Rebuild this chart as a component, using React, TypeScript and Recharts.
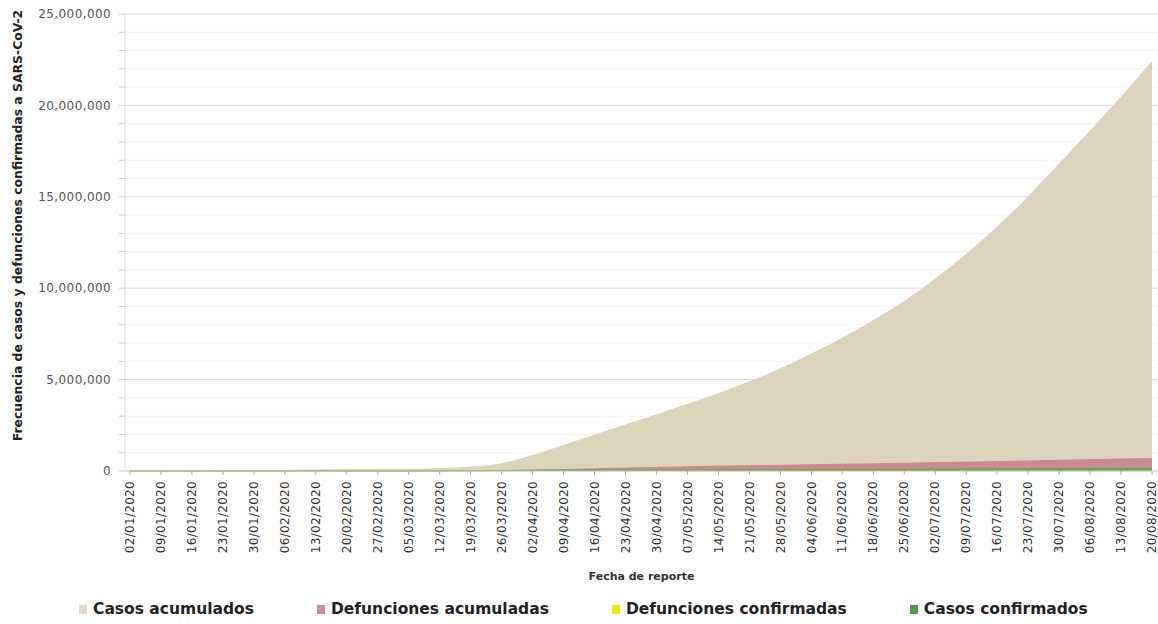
import {
  AreaChart,
  Area,
  XAxis,
  YAxis,
  CartesianGrid,
  ReferenceLine,
  Legend,
  Label,
} from "recharts";

// weekly report dates
const fechas = [
  "02/01/2020", "09/01/2020", "16/01/2020", "23/01/2020", "30/01/2020",
  "06/02/2020", "13/02/2020", "20/02/2020", "27/02/2020", "05/03/2020",
  "12/03/2020", "19/03/2020", "26/03/2020", "02/04/2020", "09/04/2020",
  "16/04/2020", "23/04/2020", "30/04/2020", "07/05/2020", "14/05/2020",
  "21/05/2020", "28/05/2020", "04/06/2020", "11/06/2020", "18/06/2020",
  "25/06/2020", "02/07/2020", "09/07/2020", "16/07/2020", "23/07/2020",
  "30/07/2020", "06/08/2020", "13/08/2020", "20/08/2020",
];

const casosAcumulados = [
  27, 41, 45, 581, 7818, 28276, 60000, 75748, 82294, 95333,
  125048, 209839, 400000, 850000, 1400000, 1960000, 2520000, 3070000, 3650000, 4230000,
  4880000, 5580000, 6400000, 7260000, 8230000, 9280000, 10500000, 11850000, 13350000, 15000000,
  16800000, 18600000, 20450000, 22400000,
];

const defuncionesAcumuladas = [
  0, 0, 2, 17, 170, 565, 1369, 2129, 2804, 3286,
  4615, 8778, 20000, 42000, 80000, 118000, 160000, 198000, 230000, 262000,
  290000, 315000, 340000, 368000, 396000, 425000, 455000, 485000, 515000, 548000,
  585000, 620000, 655000, 690000,
];

const defuncionesConfirmadas = [
  0, 0, 0, 2, 40, 70, 120, 100, 40, 80,
  300, 1000, 2500, 5000, 6500, 7000, 6500, 5500, 5300, 5000,
  4500, 4300, 4200, 4800, 4800, 5000, 4800, 4900, 5500, 5800,
  6000, 6100, 6000, 6000,
];

const casosConfirmados = [
  0, 0, 1, 300, 1700, 3700, 15000, 900, 1100, 2300,
  7500, 15000, 30000, 45000, 50000, 50000, 50000, 52000, 55000, 58000,
  62000, 66000, 70000, 75000, 80000, 88000, 95000, 100000, 110000, 118000,
  125000, 125000, 130000, 125000,
];

const yTicks = [
  0, 1000000, 2000000, 3000000, 4000000, 5000000, 6000000, 7000000, 8000000,
  9000000, 10000000, 11000000, 12000000, 13000000, 14000000, 15000000, 16000000,
  17000000, 18000000, 19000000, 20000000, 21000000, 22000000, 23000000, 24000000,
  25000000,
];
const yMajor = [5000000, 10000000, 15000000, 20000000, 25000000];

const series = [
  { key: "casosAcumulados", name: "Casos acumulados", color: "#ddd3bd", swatch: "#dcdcd0" },
  { key: "defuncionesAcumuladas", name: "Defunciones acumuladas", color: "#c78b91", swatch: "#c98f9b" },
  { key: "defuncionesConfirmadas", name: "Defunciones confirmadas", color: "#ece31c", swatch: "#efe61c" },
  { key: "casosConfirmados", name: "Casos confirmados", color: "#6b9e5a", swatch: "#4f9a4f" },
];

const data = fechas.map((fecha, i) => ({
  fecha,
  casosAcumulados: casosAcumulados[i],
  defuncionesAcumuladas: defuncionesAcumuladas[i],
  defuncionesConfirmadas: defuncionesConfirmadas[i],
  casosConfirmados: casosConfirmados[i],
}));

const font = "'DejaVu Sans', sans-serif";

const fmt = (v: number) =>
  v % 5000000 === 0 ? v.toLocaleString("en-US") : "";

function DateTick({ x, y, payload }: any) {
  return (
    <text
      x={x}
      y={y + 4}
      transform={`rotate(-90, ${x}, ${y + 4})`}
      textAnchor="end"
      dy="0.35em"
      fill="#333"
      fontSize={12}
      fontFamily={font}
      letterSpacing={0.3}
    >
      {payload.value}
    </text>
  );
}

function LegendBox() {
  return (
    <div
      style={{
        display: "flex",
        alignItems: "center",
        height: 40,
        paddingTop: 10,
        paddingLeft: 79,
        boxSizing: "border-box",
        fontFamily: font,
        fontWeight: 700,
        fontSize: 15.5,
        color: "#222",
        gap: 63,
      }}
    >
      {series.map((s) => (
        <div key={s.key} style={{ display: "flex", alignItems: "center" }}>
          <span
            style={{
              display: "inline-block",
              width: 8,
              height: 9,
              background: s.swatch,
              marginRight: 6,
            }}
          />
          {s.name}
        </div>
      ))}
    </div>
  );
}

export default function App() {
  return (
    <div style={{ position: "absolute", left: 0, top: 0, background: "#fff" }}>
      <AreaChart
        width={1158}
        height={624}
        data={data}
        margin={{ top: 14, right: 0, left: 0, bottom: 0 }}
      >
        <CartesianGrid vertical={false} stroke="#f3f3f3" />
        <XAxis
          dataKey="fecha"
          interval={0}
          height={113}
          padding={{ left: 5, right: 6 }}
          tick={<DateTick />}
          tickSize={4}
          tickLine={{ stroke: "#aaa" }}
          axisLine={{ stroke: "#ccc" }}
        >
          <Label
            value="Fecha de reporte"
            position="insideBottom"
            offset={4}
            style={{ fontFamily: font, fontWeight: 700, fontSize: 11, fill: "#333" }}
          />
        </XAxis>
        <YAxis
          width={125}
          domain={[0, 25000000]}
          ticks={yTicks}
          interval={0}
          tickFormatter={fmt}
          tick={{ fill: "#555", fontSize: 12, fontFamily: font, letterSpacing: 0.4 }}
          tickSize={6}
          tickMargin={8}
          tickLine={{ stroke: "#ccc" }}
          axisLine={{ stroke: "#ddd" }}
        >
          <Label
            content={({ viewBox }: any) => {
              const cx = viewBox.x + 18;
              const cy = viewBox.y + viewBox.height / 2 - 17;
              return (
                <text
                  x={cx}
                  y={cy}
                  transform={`rotate(-90, ${cx}, ${cy})`}
                  textAnchor="middle"
                  dy="0.35em"
                  fill="#222"
                  fontSize={12.4}
                  fontWeight={700}
                  fontFamily={font}
                >
                  Frecuencia de casos y defunciones confirmadas a SARS-CoV-2
                </text>
              );
            }}
          />
        </YAxis>
        {series.map((s) => (
          <Area
            key={s.key}
            type="monotone"
            dataKey={s.key}
            name={s.name}
            stroke={s.color}
            strokeWidth={1}
            fill={s.color}
            fillOpacity={1}
            dot={false}
            activeDot={false}
            isAnimationActive={false}
          />
        ))}
        {yMajor.map((v) => (
          <ReferenceLine key={v} y={v} stroke="#d6d6d6" strokeOpacity={0.7} />
        ))}
        <Legend
          verticalAlign="bottom"
          height={40}
          content={<LegendBox />}
          wrapperStyle={{ left: 0, width: 1158 }}
        />
      </AreaChart>
    </div>
  );
}
